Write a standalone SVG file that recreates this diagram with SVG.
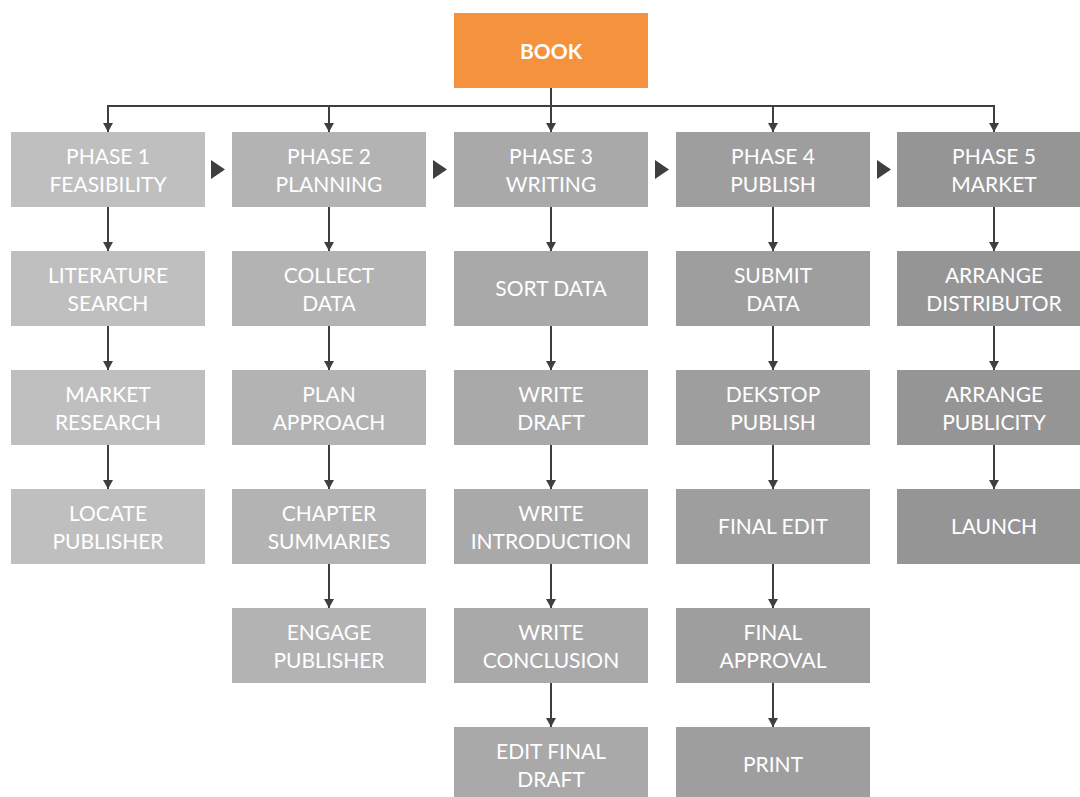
<svg xmlns="http://www.w3.org/2000/svg" width="1080" height="797" viewBox="0 0 1080 797">
  <defs>
    <marker id="arrow" viewBox="0 0 9 10" refX="9" refY="5" markerWidth="9" markerHeight="10" markerUnits="userSpaceOnUse" orient="auto">
      <path d="M0,0 L9,5 L0,10 z" fill="#3f3f42"/>
    </marker>
    <style>
      .lbl { font-family: Lato, "Noto Sans", "Liberation Sans", sans-serif; font-size: 21px; font-weight: 400; fill: #ffffff; text-anchor: middle; }
      .root { font-family: Lato, "Noto Sans", "Liberation Sans", sans-serif; font-size: 21px; font-weight: 700; fill: #ffffff; text-anchor: middle; }
      .c1 { fill: #bfbfc0; }
      .c2 { fill: #b3b3b4; }
      .c3 { fill: #a9a9aa; }
      .c4 { fill: #9e9e9f; }
      .c5 { fill: #959596; }
      .link { stroke: #3f3f42; stroke-width: 2; fill: none; }
      .step { fill: #3f3f42; }
    </style>
  </defs>

  <rect width="1080" height="797" fill="#ffffff"/>

  <!-- connectors -->
  <g id="connectors">
    <path class="link" d="M108,106 H994"/>
    <path class="link" d="M551,88 V132" marker-end="url(#arrow)"/>
    <path class="link" d="M108,105 V132" marker-end="url(#arrow)"/>
    <path class="link" d="M329,106 V132" marker-end="url(#arrow)"/>
    <path class="link" d="M773,106 V132" marker-end="url(#arrow)"/>
    <path class="link" d="M994,105 V132" marker-end="url(#arrow)"/>

    <!-- column 1 -->
    <path class="link" d="M108,207 V251" marker-end="url(#arrow)"/>
    <path class="link" d="M108,326 V370" marker-end="url(#arrow)"/>
    <path class="link" d="M108,445 V489" marker-end="url(#arrow)"/>
    <!-- column 2 -->
    <path class="link" d="M329,207 V251" marker-end="url(#arrow)"/>
    <path class="link" d="M329,326 V370" marker-end="url(#arrow)"/>
    <path class="link" d="M329,445 V489" marker-end="url(#arrow)"/>
    <path class="link" d="M329,564 V608" marker-end="url(#arrow)"/>
    <!-- column 3 -->
    <path class="link" d="M551,207 V251" marker-end="url(#arrow)"/>
    <path class="link" d="M551,326 V370" marker-end="url(#arrow)"/>
    <path class="link" d="M551,445 V489" marker-end="url(#arrow)"/>
    <path class="link" d="M551,564 V608" marker-end="url(#arrow)"/>
    <path class="link" d="M551,683 V727" marker-end="url(#arrow)"/>
    <!-- column 4 -->
    <path class="link" d="M773,207 V251" marker-end="url(#arrow)"/>
    <path class="link" d="M773,326 V370" marker-end="url(#arrow)"/>
    <path class="link" d="M773,445 V489" marker-end="url(#arrow)"/>
    <path class="link" d="M773,564 V608" marker-end="url(#arrow)"/>
    <path class="link" d="M773,683 V727" marker-end="url(#arrow)"/>
    <!-- column 5 -->
    <path class="link" d="M994,207 V251" marker-end="url(#arrow)"/>
    <path class="link" d="M994,326 V370" marker-end="url(#arrow)"/>
    <path class="link" d="M994,445 V489" marker-end="url(#arrow)"/>

    <!-- phase sequence pointers -->
    <polygon class="step" points="211,160 225,169.5 211,179"/>
    <polygon class="step" points="433,160 447,169.5 433,179"/>
    <polygon class="step" points="655,160 669,169.5 655,179"/>
    <polygon class="step" points="877,160 891,169.5 877,179"/>
  </g>

  <!-- root -->
  <g id="book">
    <rect x="454" y="13" width="194" height="75" fill="#f5923e"/>
    <text class="root" x="551" y="58.5">BOOK</text>
  </g>

  <!-- phase 1 -->
  <g id="phase1">
    <rect class="c1" x="11" y="132" width="194" height="75"/>
    <text class="lbl" x="108" y="163.5">PHASE 1</text>
    <text class="lbl" x="108" y="191.5">FEASIBILITY</text>
  </g>
  <g id="literature-search">
    <rect class="c1" x="11" y="251" width="194" height="75"/>
    <text class="lbl" x="108" y="282.5">LITERATURE</text>
    <text class="lbl" x="108" y="310.5">SEARCH</text>
  </g>
  <g id="market-research">
    <rect class="c1" x="11" y="370" width="194" height="75"/>
    <text class="lbl" x="108" y="401.5">MARKET</text>
    <text class="lbl" x="108" y="429.5">RESEARCH</text>
  </g>
  <g id="locate-publisher">
    <rect class="c1" x="11" y="489" width="194" height="75"/>
    <text class="lbl" x="108" y="520.5">LOCATE</text>
    <text class="lbl" x="108" y="548.5">PUBLISHER</text>
  </g>

  <!-- phase 2 -->
  <g id="phase2">
    <rect class="c2" x="232" y="132" width="194" height="75"/>
    <text class="lbl" x="329" y="163.5">PHASE 2</text>
    <text class="lbl" x="329" y="191.5">PLANNING</text>
  </g>
  <g id="collect-data">
    <rect class="c2" x="232" y="251" width="194" height="75"/>
    <text class="lbl" x="329" y="282.5">COLLECT</text>
    <text class="lbl" x="329" y="310.5">DATA</text>
  </g>
  <g id="plan-approach">
    <rect class="c2" x="232" y="370" width="194" height="75"/>
    <text class="lbl" x="329" y="401.5">PLAN</text>
    <text class="lbl" x="329" y="429.5">APPROACH</text>
  </g>
  <g id="chapter-summaries">
    <rect class="c2" x="232" y="489" width="194" height="75"/>
    <text class="lbl" x="329" y="520.5">CHAPTER</text>
    <text class="lbl" x="329" y="548.5">SUMMARIES</text>
  </g>
  <g id="engage-publisher">
    <rect class="c2" x="232" y="608" width="194" height="75"/>
    <text class="lbl" x="329" y="639.5">ENGAGE</text>
    <text class="lbl" x="329" y="667.5">PUBLISHER</text>
  </g>

  <!-- phase 3 -->
  <g id="phase3">
    <rect class="c3" x="454" y="132" width="194" height="75"/>
    <text class="lbl" x="551" y="163.5">PHASE 3</text>
    <text class="lbl" x="551" y="191.5">WRITING</text>
  </g>
  <g id="sort-data">
    <rect class="c3" x="454" y="251" width="194" height="75"/>
    <text class="lbl" x="551" y="296">SORT DATA</text>
  </g>
  <g id="write-draft">
    <rect class="c3" x="454" y="370" width="194" height="75"/>
    <text class="lbl" x="551" y="401.5">WRITE</text>
    <text class="lbl" x="551" y="429.5">DRAFT</text>
  </g>
  <g id="write-introduction">
    <rect class="c3" x="454" y="489" width="194" height="75"/>
    <text class="lbl" x="551" y="520.5">WRITE</text>
    <text class="lbl" x="551" y="548.5">INTRODUCTION</text>
  </g>
  <g id="write-conclusion">
    <rect class="c3" x="454" y="608" width="194" height="75"/>
    <text class="lbl" x="551" y="639.5">WRITE</text>
    <text class="lbl" x="551" y="667.5">CONCLUSION</text>
  </g>
  <g id="edit-final-draft">
    <rect class="c3" x="454" y="727" width="194" height="75"/>
    <text class="lbl" x="551" y="758.5">EDIT FINAL</text>
    <text class="lbl" x="551" y="786.5">DRAFT</text>
  </g>

  <!-- phase 4 -->
  <g id="phase4">
    <rect class="c4" x="676" y="132" width="194" height="75"/>
    <text class="lbl" x="773" y="163.5">PHASE 4</text>
    <text class="lbl" x="773" y="191.5">PUBLISH</text>
  </g>
  <g id="submit-data">
    <rect class="c4" x="676" y="251" width="194" height="75"/>
    <text class="lbl" x="773" y="282.5">SUBMIT</text>
    <text class="lbl" x="773" y="310.5">DATA</text>
  </g>
  <g id="desktop-publish">
    <rect class="c4" x="676" y="370" width="194" height="75"/>
    <text class="lbl" x="773" y="401.5">DEKSTOP</text>
    <text class="lbl" x="773" y="429.5">PUBLISH</text>
  </g>
  <g id="final-edit">
    <rect class="c4" x="676" y="489" width="194" height="75"/>
    <text class="lbl" x="773" y="534">FINAL EDIT</text>
  </g>
  <g id="final-approval">
    <rect class="c4" x="676" y="608" width="194" height="75"/>
    <text class="lbl" x="773" y="639.5">FINAL</text>
    <text class="lbl" x="773" y="667.5">APPROVAL</text>
  </g>
  <g id="print">
    <rect class="c4" x="676" y="727" width="194" height="75"/>
    <text class="lbl" x="773" y="772">PRINT</text>
  </g>

  <!-- phase 5 -->
  <g id="phase5">
    <rect class="c5" x="897" y="132" width="194" height="75"/>
    <text class="lbl" x="994" y="163.5">PHASE 5</text>
    <text class="lbl" x="994" y="191.5">MARKET</text>
  </g>
  <g id="arrange-distributor">
    <rect class="c5" x="897" y="251" width="194" height="75"/>
    <text class="lbl" x="994" y="282.5">ARRANGE</text>
    <text class="lbl" x="994" y="310.5">DISTRIBUTOR</text>
  </g>
  <g id="arrange-publicity">
    <rect class="c5" x="897" y="370" width="194" height="75"/>
    <text class="lbl" x="994" y="401.5">ARRANGE</text>
    <text class="lbl" x="994" y="429.5">PUBLICITY</text>
  </g>
  <g id="launch">
    <rect class="c5" x="897" y="489" width="194" height="75"/>
    <text class="lbl" x="994" y="534">LAUNCH</text>
  </g>
</svg>
